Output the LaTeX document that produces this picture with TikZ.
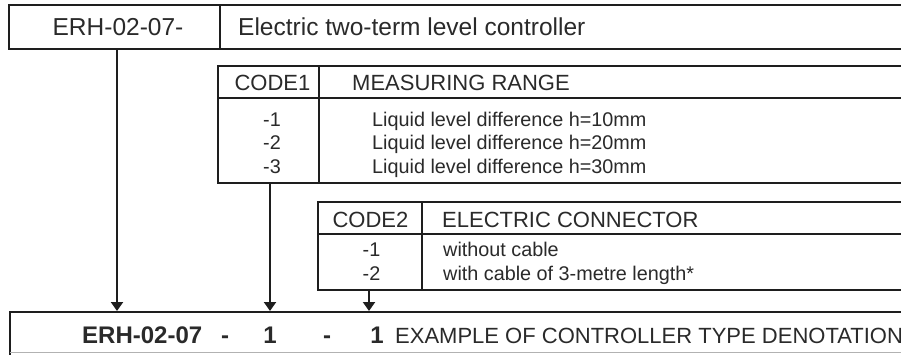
\documentclass[tikz,border=0pt]{standalone}
\usepackage{fontspec}
\setmainfont{Liberation Sans}
\usetikzlibrary{arrows.meta}
\definecolor{ink}{HTML}{1E1E1E}
\definecolor{txt}{HTML}{2A2A2A}
\tikzset{
  outer/.style={draw=ink, line width=2.4pt},
  inner/.style={draw=ink, line width=1.1pt},
  arr/.style={draw=ink, line width=2pt, -{Triangle[width=12pt,length=9pt]}},
  lbl/.style={inner sep=0pt, text=txt},
  big/.style={lbl, font=\fontsize{24.5}{28}\selectfont},
  mid/.style={lbl, font=\fontsize{22}{26}\selectfont},
  sml/.style={lbl, font=\fontsize{19.8}{24}\selectfont},
  bld/.style={lbl, font=\fontsize{24}{28}\selectfont\bfseries},
}
\begin{document}
\begin{tikzpicture}[x=1pt, y=-1pt]
\fill[white] (0,0) rectangle (901,354);
\clip (0,0) rectangle (901,354);
% top box
\draw[outer] (9,5) rectangle (940,49);
\draw[inner] (220,5) -- (220,49);
\coordinate (topA) at (117,49);
% code1 box
\draw[outer] (218,66) rectangle (940,183);
\draw[inner] (218,98) -- (940,98);
\draw[inner] (319,66) -- (319,183);
\coordinate (c1A) at (270,183);
% code2 box
\draw[outer] (318,202) rectangle (940,290);
\draw[inner] (318,234) -- (940,234);
\draw[inner] (422,202) -- (422,290);
\coordinate (c2A) at (369,290);
% bottom box
\draw[outer] (10,312) rectangle (940,380);
\draw[gray!60, line width=0.8pt] (10,352) -- (901,352);
\coordinate (b1) at (117,311);
\coordinate (b2) at (270,311);
\coordinate (b3) at (369,311);
% arrows
\draw[arr] (topA) -- (b1);
\draw[arr] (c1A) -- (b2);
\draw[arr] (c2A) -- (b3);
% texts
\node[big, anchor=base] (t1) at (118,35) {ERH-02-07-};
\node[big, anchor=base west] (t2) at (238,35) {Electric two-term level controller};
\node[mid, anchor=base] (h1) at (272.5,90.5) {CODE1};
\node[mid, anchor=base west] (h2) at (352,90.5) {MEASURING RANGE};
\node[sml, anchor=base] (r1a) at (272,126) {-1};
\node[sml, anchor=base] (r2a) at (272,149.5) {-2};
\node[sml, anchor=base] (r3a) at (272,173) {-3};
\node[sml, anchor=base west] (r1b) at (372,126) {Liquid level difference h=10mm};
\node[sml, anchor=base west] (r2b) at (372,149.5) {Liquid level difference h=20mm};
\node[sml, anchor=base west] (r3b) at (372,173) {Liquid level difference h=30mm};
\node[mid, anchor=base] (g1) at (370.5,227) {CODE2};
\node[mid, anchor=base west] (g2) at (442,227) {ELECTRIC CONNECTOR};
\node[sml, anchor=base] (s1a) at (371.5,256.5) {-1};
\node[sml, anchor=base] (s2a) at (371.5,280.5) {-2};
\node[sml, anchor=base west] (s1b) at (443,256.5) {without cable};
\node[sml, anchor=base west] (s2b) at (443,280.5) {with cable of 3-metre length*};
\node[bld, anchor=base west] (e1) at (82,343) {ERH-02-07};
\node[bld, anchor=base] (e2) at (225,343) {-};
\node[bld, anchor=base] (e3) at (270,343) {1};
\node[bld, anchor=base] (e4) at (327,343) {-};
\node[bld, anchor=base] (e5) at (377,343) {1};
\node[mid, anchor=base west] (e6) at (395,343) {EXAMPLE OF CONTROLLER TYPE DENOTATION};
\end{tikzpicture}
\end{document}
